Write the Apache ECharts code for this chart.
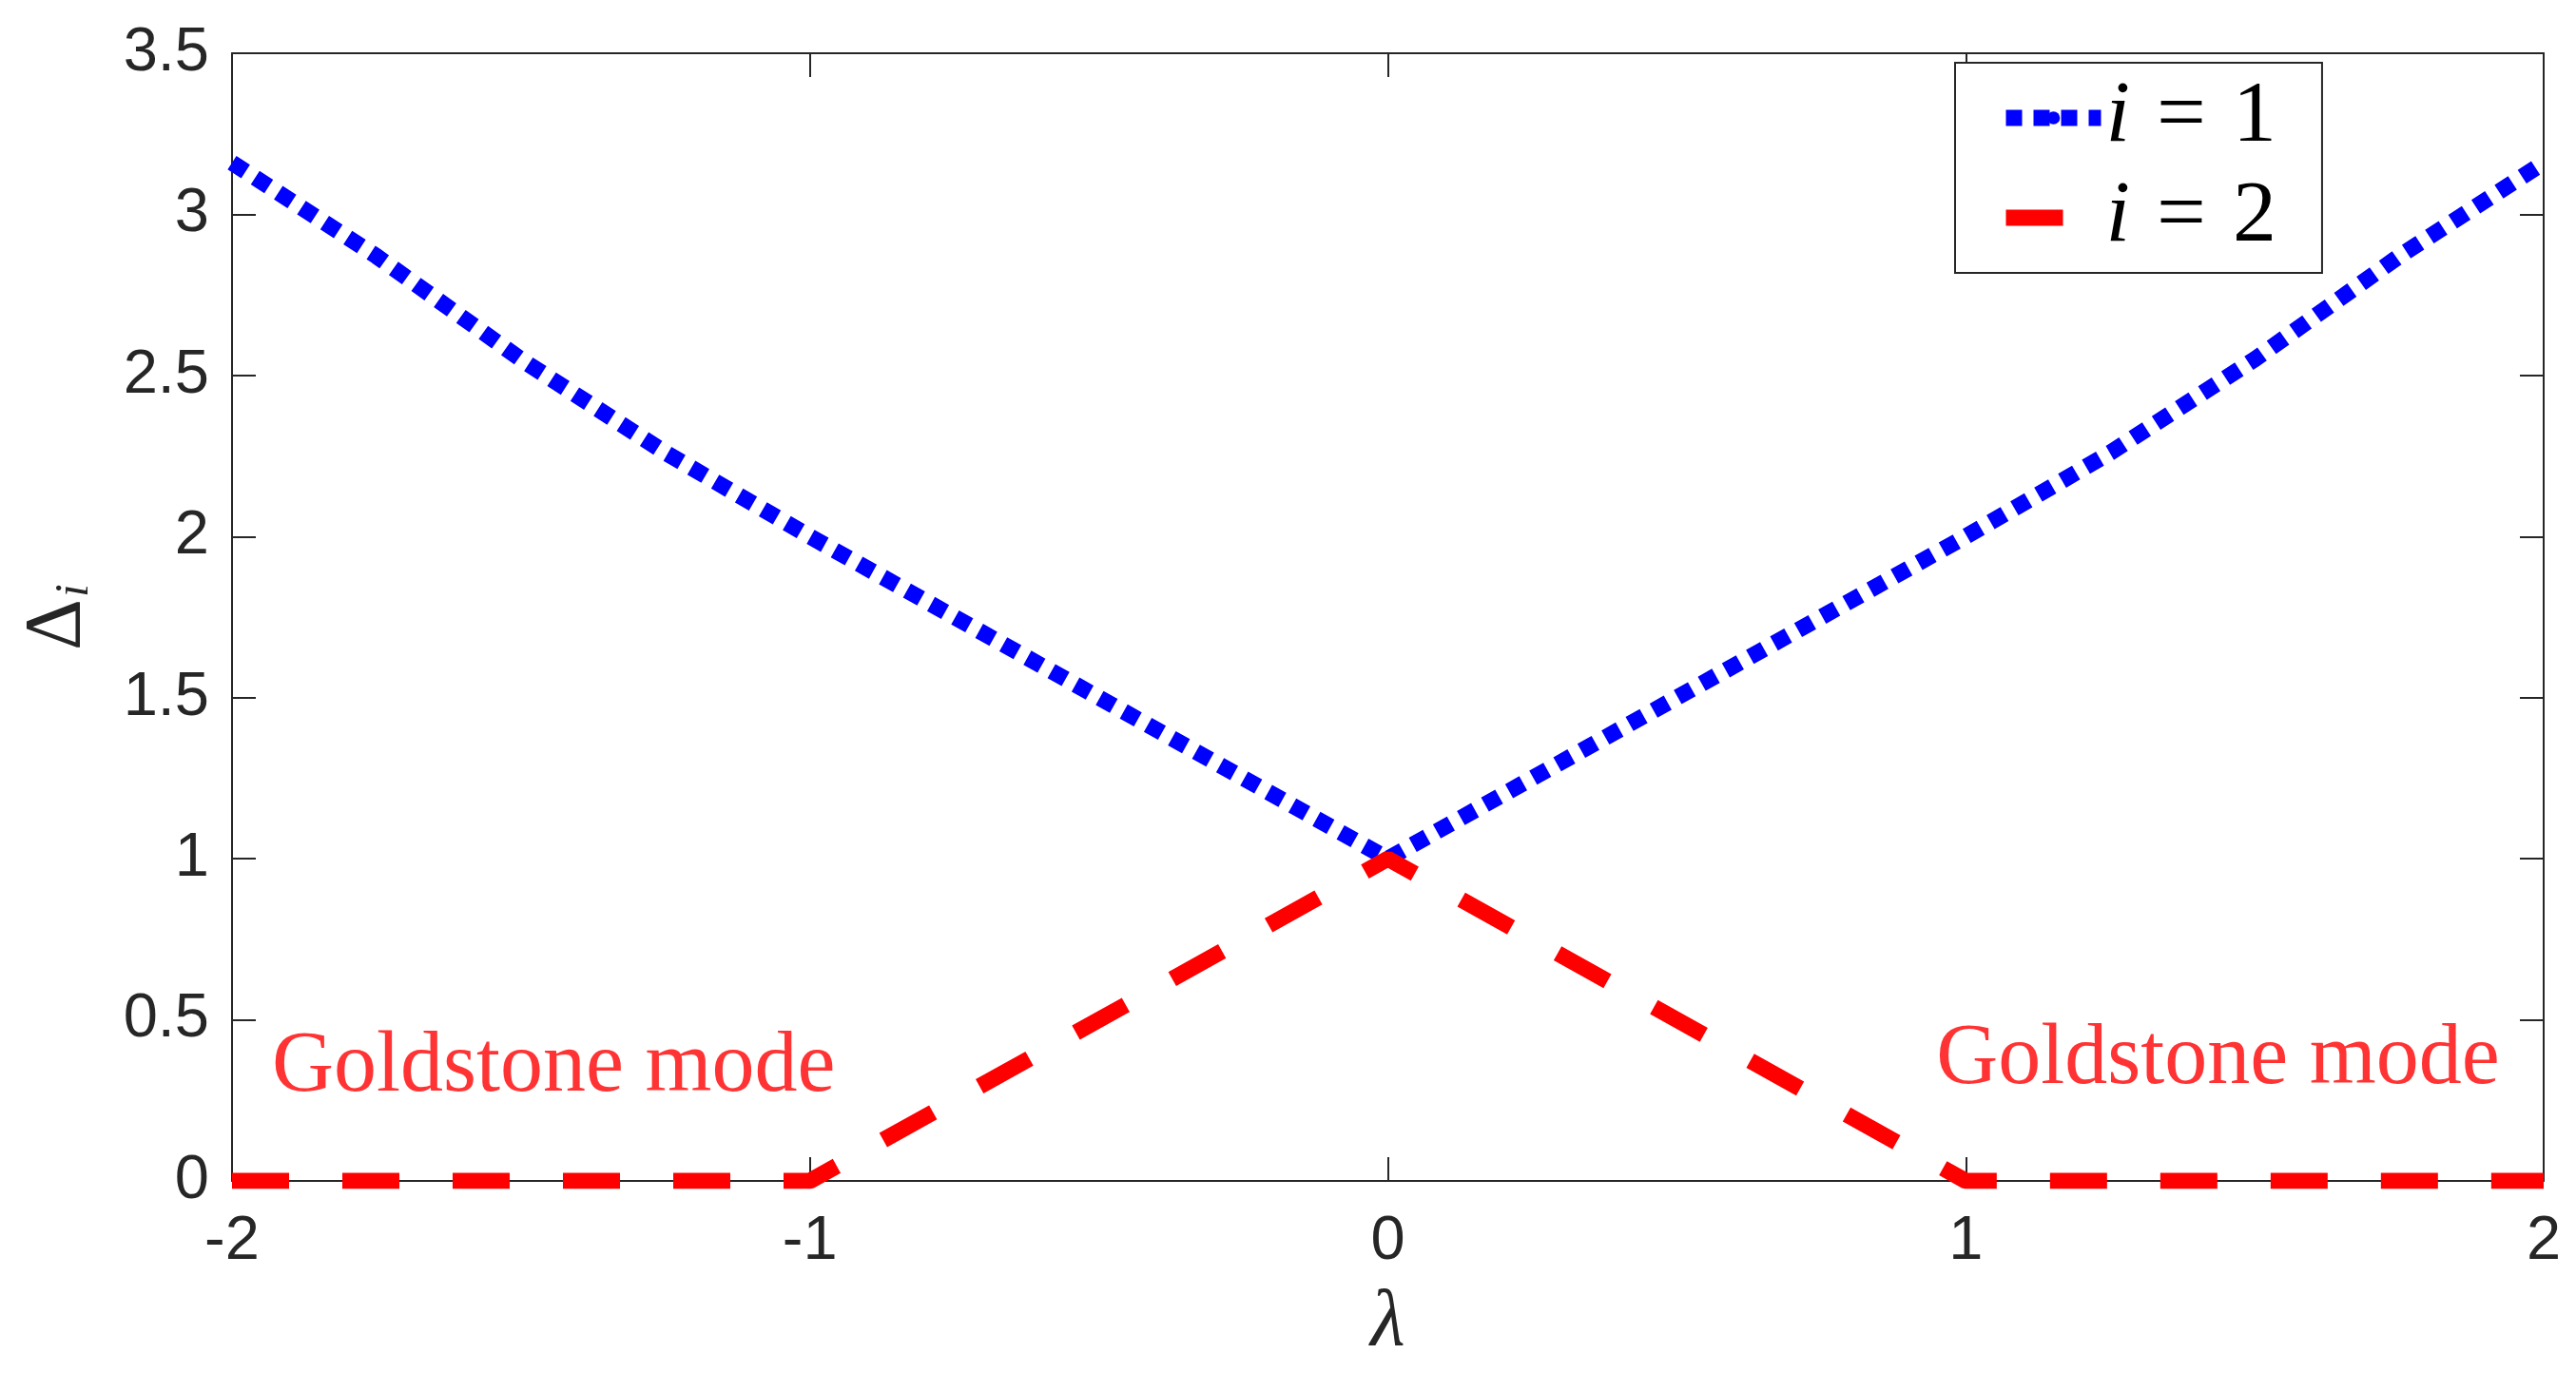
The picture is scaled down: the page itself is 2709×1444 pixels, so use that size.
<!DOCTYPE html>
<html><head><meta charset="utf-8">
<script src="https://cdn.jsdelivr.net/npm/echarts@6/dist/echarts.min.js"></script>
<style>html,body{margin:0;padding:0;background:#fff}#c{width:2709px;height:1444px}</style>
</head><body><div id="c"></div>
<script>
// ---- data ----
const lambda1 = [-2, -1.75, -1.5, -1.25, -1, -0.5, 0, 0.5, 1, 1.25, 1.5, 1.75, 2];
const delta1 = [3.16, 2.87, 2.55, 2.26, 2.0, 1.5, 1.0, 1.5, 2.0, 2.26, 2.55, 2.87, 3.16];
const lambda2 = [-2, -1, 0, 1, 2];
const delta2 = [0, 0, 1, 0, 0];
const seriesNames = ['i = 1', 'i = 2'];
const xTickMin = -2, xTickMax = 2, xTickStep = 1;
const yTickMin = 0, yTickMax = 3.5, yTickStep = 0.5;
const noteText = ['Goldstone mode', 'Goldstone mode'];
const noteX = [-1.931, 0.949];
const noteY = [0.35, 0.375];

const axisColor = '#262626';
const pairs = (xs, ys) => xs.map((x, i) => [x, ys[i]]);

const chart = echarts.init(document.getElementById('c'), null, {renderer: 'canvas'});

const baseAxis = {
  type: 'value',
  axisLine: {show: true, onZero: false, lineStyle: {color: axisColor, width: 2}},
  axisTick: {show: true, inside: true, length: 25, lineStyle: {color: axisColor, width: 2}},
  splitLine: {show: false}
};

chart.setOption({
  animation: false,
  backgroundColor: '#fff',
  grid: {left: 244, right: 34, top: 56, bottom: 202, containLabel: false},
  xAxis: [
    Object.assign({}, baseAxis, {
      min: xTickMin, max: xTickMax, interval: xTickStep, position: 'bottom',
      axisLabel: {show: true, margin: 32, color: axisColor, fontSize: 65, fontFamily: 'Liberation Sans'},
      name: 'λ', nameLocation: 'middle', nameGap: 108,
      nameTextStyle: {fontFamily: 'Liberation Serif', fontStyle: 'italic', fontSize: 84, color: axisColor}
    }),
    Object.assign({}, baseAxis, {
      min: xTickMin, max: xTickMax, interval: xTickStep, position: 'top',
      axisLabel: {show: false}
    })
  ],
  yAxis: [
    Object.assign({}, baseAxis, {
      min: yTickMin, max: yTickMax, interval: yTickStep, position: 'left',
      axisLabel: {show: true, margin: 24, color: axisColor, fontSize: 65, fontFamily: 'Liberation Sans'},
      name: '{d|Δ}{s|i}', nameLocation: 'middle', nameGap: 140, nameRotate: 90,
      nameTextStyle: {
        color: axisColor,
        rich: {
          d: {fontFamily: 'Liberation Serif', fontSize: 84, color: axisColor, lineHeight: 90, verticalAlign: 'bottom'},
          s: {fontFamily: 'Liberation Serif', fontStyle: 'italic', fontSize: 50, color: axisColor, lineHeight: 90, verticalAlign: 'bottom', padding: [0, 0, 0, 2]}
        }
      }
    }),
    Object.assign({}, baseAxis, {
      min: yTickMin, max: yTickMax, interval: yTickStep, position: 'right',
      axisLabel: {show: false}
    })
  ],
  legend: {
    show: true,
    left: 2056, top: 66,
    orient: 'vertical',
    padding: [12, 48, 12, 45],
    itemGap: 13,
    itemWidth: 100,
    itemHeight: 17,
    backgroundColor: '#fff',
    borderColor: axisColor,
    borderWidth: 2,
    borderRadius: 0,
    data: seriesNames,
    lineStyle: {width: 17},
    formatter: function (name) {
      const parts = name.split(' = ');
      return '{i|' + parts[0] + '}{e|=}{n|' + parts[1] + '}';
    },
    textStyle: {
      rich: {
        i: {fontFamily: 'Liberation Serif', fontStyle: 'italic', fontSize: 92, color: '#000', lineHeight: 88},
        e: {fontFamily: 'Liberation Serif', fontSize: 92, color: '#000', lineHeight: 88, padding: [0, 28, 0, 28]},
        n: {fontFamily: 'Liberation Serif', fontSize: 92, color: '#000', lineHeight: 88}
      }
    }
  },
  series: [
    {
      name: seriesNames[0], type: 'line', data: pairs(lambda1, delta1),
      symbol: 'none', showSymbol: false,
      lineStyle: {color: '#0000ff', width: 17, type: [17, 12], cap: 'butt'},
      itemStyle: {color: '#0000ff'},
      z: 3
    },
    {
      name: seriesNames[1], type: 'line', data: pairs(lambda2, delta2),
      symbol: 'none', showSymbol: false,
      lineStyle: {color: '#ff0000', width: 17, type: [60, 56], cap: 'butt'},
      itemStyle: {color: '#ff0000'},
      z: 4
    },
    {
      name: 'notes', type: 'scatter', symbolSize: 0, silent: true,
      data: noteText.map((t, i) => ({name: t, value: [noteX[i], noteY[i]]})),
      label: {
        show: true, position: 'right', distance: 0,
        formatter: p => p.name,
        fontFamily: 'Liberation Serif', fontSize: 90, color: '#ff0000'
      },
      z: 5
    }
  ]
});
</script>
</body></html>
